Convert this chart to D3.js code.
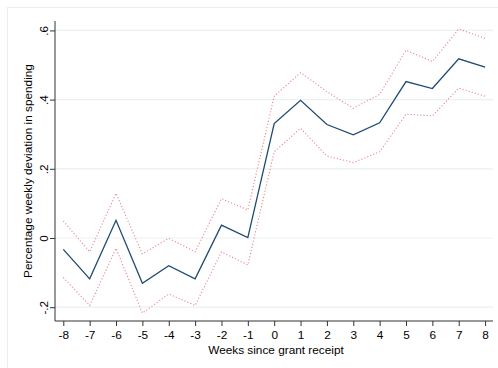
<!DOCTYPE html>
<html>
<head>
<meta charset="utf-8">
<script src="https://cdn.jsdelivr.net/npm/d3@7"></script>
<style>
  html, body { margin: 0; padding: 0; background: #fff; }
  svg { display: block; }
  text { font-family: "Liberation Sans", Arial, sans-serif; fill: #000; }
</style>
</head>
<body>
<svg id="chart" width="498" height="368"></svg>
<script>
// Event-study estimates: weeks relative to grant receipt
const weeks = [-8, -7, -6, -5, -4, -3, -2, -1, 0, 1, 2, 3, 4, 5, 6, 7, 8];
const estimate = [-0.033, -0.118, 0.051, -0.131, -0.080, -0.118, 0.037, 0.001,
                  0.331, 0.398, 0.328, 0.298, 0.333, 0.452, 0.432, 0.518, 0.494];
const upperCI = [0.049, -0.040, 0.129, -0.046, -0.001, -0.040, 0.114, 0.081,
                 0.410, 0.478, 0.423, 0.375, 0.415, 0.543, 0.510, 0.604, 0.577];
const lowerCI = [-0.114, -0.195, -0.030, -0.217, -0.162, -0.195, -0.040, -0.078,
                 0.249, 0.317, 0.237, 0.218, 0.249, 0.358, 0.353, 0.433, 0.410];
const yTicks = [-0.2, 0, 0.2, 0.4, 0.6];
const yTickLabels = ["-.2", "0", ".2", ".4", ".6"];

const svg = d3.select("#chart");

// outer graph frame
svg.append("rect")
  .attr("x", 7.5).attr("y", 7.5).attr("width", 520).attr("height", 400)
  .attr("fill", "#fff").attr("stroke", "#e6eef0").attr("stroke-width", 1);

const plot = { left: 55, right: 493, top: 21, bottom: 321 };
const fontSize = 11.8;

const x = d3.scaleLinear()
  .domain([-8.315, 8.3])
  .range([plot.left, plot.right]);
const y = d3.scaleLinear()
  .domain([-0.2399, 0.6272])
  .range([plot.bottom, plot.top]);

// gridlines
svg.append("g")
  .selectAll("line")
  .data(yTicks)
  .join("line")
  .attr("x1", plot.left).attr("x2", plot.right)
  .attr("y1", d => y(d)).attr("y2", d => y(d))
  .attr("stroke", "#e9f1f2").attr("stroke-width", 1.2);

// y axis with rotated tick labels
const yAxis = d3.axisLeft(y)
  .tickValues(yTicks)
  .tickFormat((d, i) => yTickLabels[i])
  .tickSizeOuter(0).tickSize(5);
const gy = svg.append("g")
  .attr("transform", `translate(${plot.left},0)`)
  .call(yAxis);
gy.select(".domain").attr("d", `M0,${plot.top}V${plot.bottom}`);
gy.selectAll("line, path").attr("stroke", "#333").attr("stroke-width", 1);
gy.selectAll(".tick text")
  .attr("font-size", fontSize)
  .attr("x", 0).attr("y", 0).attr("dy", 0)
  .attr("text-anchor", "middle")
  .attr("transform", "translate(-7,0) rotate(-90)");

// x axis
const xAxis = d3.axisBottom(x)
  .tickValues(weeks)
  .tickFormat(d => d < 0 ? "-" + Math.abs(d) : String(d))
  .tickSizeOuter(0).tickSize(5).tickPadding(4);
const gx = svg.append("g")
  .attr("transform", `translate(0,${plot.bottom})`)
  .call(xAxis);
gx.select(".domain").attr("d", `M${plot.left},0H${plot.right}`);
gx.selectAll("line, path").attr("stroke", "#333").attr("stroke-width", 1);
gx.selectAll(".tick text").attr("font-size", fontSize).attr("dy", "0.8em");

// axis titles
svg.append("text")
  .attr("x", 276).attr("y", 354)
  .attr("text-anchor", "middle").attr("font-size", fontSize)
  .text("Weeks since grant receipt");
svg.append("text")
  .attr("transform", `translate(32,171) rotate(-90)`)
  .attr("text-anchor", "middle").attr("font-size", fontSize)
  .text("Percentage weekly deviation in spending");

const line = d3.line()
  .x((d, i) => x(weeks[i]))
  .y(d => y(d));

// confidence bands
[upperCI, lowerCI].forEach(series => {
  svg.append("path")
    .datum(series)
    .attr("d", line)
    .attr("fill", "none")
    .attr("stroke", "#ea8797")
    .attr("stroke-width", 1.1)
    .attr("stroke-dasharray", "1.2,2");
});

// point estimates
svg.append("path")
  .datum(estimate)
  .attr("d", line)
  .attr("fill", "none")
  .attr("stroke", "#1f4a72")
  .attr("stroke-width", 1.3);
</script>
</body>
</html>
